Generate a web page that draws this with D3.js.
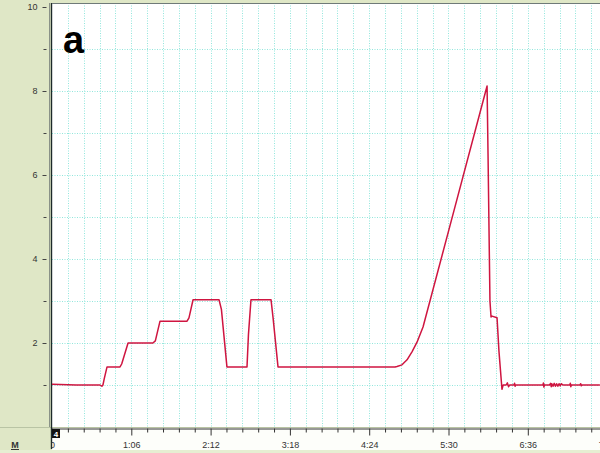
<!DOCTYPE html>
<html>
<head>
<meta charset="utf-8">
<script src="https://cdn.jsdelivr.net/npm/d3@7"></script>
<style>
html,body{margin:0;padding:0;overflow:hidden;background:#dfe7c6;}
svg{display:block;font-family:"Liberation Sans",Arial,sans-serif;}
</style>
</head>
<body>
<svg id="chart" width="600" height="453"></svg>
<script>
// Time in seconds
const timeSec = [0,20,40,41.5,42.4,43.5,45.8,56.6,58,63.3,84,86,89.9,112.4,114,117.4,139,141,145.6,162.3,163.5,165.6,182.3,184,188.1,285.5,287.1,291.3,295.5,299.6,303.8,308.8,331.3,362.1,362.9,364.5,365.4,366.2,370.4,372,374.5,375.5,378,379,380,381,384.5,385,385.5,386,408.6,409,409.4,409.8,414,415,415.5,416,417,418,419,420,421,422,423,424,425.3,431,431.4,431.8,432.2,439.4,440,440.5,441,456];
// Voltage values
const voltage = [1.02,1.0,1.0,0.97,1.0,1.15,1.43,1.43,1.5,2.0,2.0,2.05,2.52,2.52,2.6,3.03,3.03,2.8,1.43,1.43,2.2,3.03,3.03,2.6,1.43,1.43,1.44,1.48,1.6,1.79,2.02,2.38,4.8,8.12,6.5,3.0,2.62,2.64,2.6,1.8,0.9,1.0,1.0,1.05,0.96,1.0,1.0,1.04,0.97,1.0,1.0,1.05,0.95,1.0,1.0,1.04,0.96,1.03,0.97,1.04,0.97,1.03,0.97,1.03,0.98,1.03,1.0,1.0,1.04,0.96,1.0,1.0,1.03,0.98,1.0,1.0];
const xTickValues = [0,66,132,198,264,330,396,462];
const yTickLabels = [2,4,6,8,10];

(function(){
const svg = d3.select("#chart");
const W = 600, H = 453;
const pLeft = 52, pTop = 3, pBottom = 427;
const pxPerSec = 79.3/66;
const tMax = 470;

const x = d3.scaleLinear().domain([0, tMax]).range([pLeft, pLeft + tMax*pxPerSec]);
const y = d3.scaleLinear().domain([0, 10]).range([pBottom, pBottom - 420]);

// backgrounds
svg.append("rect").attr("x",0).attr("y",0).attr("width",W).attr("height",H).attr("fill","#dfe7c6");
svg.append("rect").attr("x",pLeft).attr("y",pTop).attr("width",W-pLeft).attr("height",pBottom-pTop).attr("fill","#ffffff");
svg.append("rect").attr("x",pLeft).attr("y",pBottom+1).attr("width",W-pLeft).attr("height",22).attr("fill","#fdfefa");
svg.append("rect").attr("x",0).attr("y",450).attr("width",W).attr("height",3).attr("fill","#e6eed2");

// grid
const gridColor = "#93e6dc";
const vGrid = d3.range(0, tMax, 13.2);
svg.append("g").selectAll("line").data(vGrid.slice(1)).join("line")
  .attr("x1",d=>Math.round(x(d))+0.5).attr("x2",d=>Math.round(x(d))+0.5)
  .attr("y1",pTop).attr("y2",pBottom)
  .attr("stroke",gridColor).attr("stroke-width",1).attr("stroke-dasharray","1,1.5");
svg.append("g").selectAll("line").data(d3.range(1,10)).join("line")
  .attr("x1",pLeft).attr("x2",W)
  .attr("y1",d=>Math.round(y(d))+0.5).attr("y2",d=>Math.round(y(d))+0.5)
  .attr("stroke",gridColor).attr("stroke-width",1).attr("stroke-dasharray","1,1.5");

// separator line under plot
svg.append("line").attr("x1",0).attr("x2",W).attr("y1",pBottom+0.5).attr("y2",pBottom+0.5)
  .attr("stroke","#b9c4a4").attr("stroke-width",1);

// frame
svg.append("line").attr("x1",49.5).attr("x2",49.5).attr("y1",pTop).attr("y2",pBottom)
  .attr("stroke","#8a9288").attr("stroke-width",1);
svg.append("line").attr("x1",51.5).attr("x2",51.5).attr("y1",pTop).attr("y2",449)
  .attr("stroke","#1d2a2a").attr("stroke-width",1.4);
svg.append("line").attr("x1",pLeft).attr("x2",W).attr("y1",pTop+0.5).attr("y2",pTop+0.5)
  .attr("stroke","#6f7a78").attr("stroke-width",1);

// data line
const pts = timeSec.map((t,i)=>[t, voltage[i]]);
const line = d3.line().x(d=>x(d[0])).y(d=>y(d[1]));
svg.append("path").datum(pts).attr("d",line)
  .attr("fill","none").attr("stroke","#cf1540").attr("stroke-width",1.5)
  .attr("stroke-linejoin","round");

// x axis
const clip = svg.append("clipPath").attr("id","xclip");
clip.append("rect").attr("x",51).attr("y",-2).attr("width",W).attr("height",30);
const fmt = s => Math.floor(s/60) + ":" + String(Math.round(s%60)).padStart(2,"0");
const xAxis = d3.axisBottom(x).tickValues(xTickValues).tickSize(7).tickPadding(6)
  .tickFormat(d => d===0 ? "0" : fmt(d));
const gx = svg.append("g").attr("transform",`translate(0,${pBottom+1.5})`).attr("clip-path","url(#xclip)").call(xAxis);
gx.select(".domain").attr("stroke","#333");
gx.selectAll(".tick line").attr("stroke","#333");
gx.selectAll("text").attr("font-size",9).attr("fill","#333");
const minorX = d3.range(0, tMax, 13.2).filter((d,i)=>i%5!==0);
const xMinor = d3.axisBottom(x).tickValues(minorX).tickSize(4).tickFormat("");
const gxm = svg.append("g").attr("transform",`translate(0,${pBottom+1.5})`).call(xMinor);
gxm.select(".domain").remove();
gxm.selectAll(".tick line").attr("stroke","#333");

// y axis
const yAxis = d3.axisLeft(y).tickValues(yTickLabels).tickSize(4).tickPadding(5);
const gy = svg.append("g").attr("transform","translate(46.5,0)").call(yAxis);
gy.select(".domain").remove();
gy.selectAll(".tick line").attr("stroke","#444");
gy.selectAll("text").attr("font-size",9).attr("fill","#333");
const yMinor = d3.axisLeft(y).tickValues([1,3,5,7,9]).tickSize(3).tickFormat("");
const gym = svg.append("g").attr("transform","translate(46.5,0)").call(yMinor);
gym.select(".domain").remove();
gym.selectAll(".tick line").attr("stroke","#444");

// channel box
svg.append("rect").attr("x",52).attr("y",429).attr("width",8).attr("height",9).attr("fill","#111");
svg.append("text").attr("x",56).attr("y",437).attr("text-anchor","middle")
  .attr("font-size",8).attr("font-weight","bold").attr("fill","#fff").text("4");

// M marker
svg.append("text").attr("x",15).attr("y",448).attr("text-anchor","middle")
  .attr("font-size",9).attr("font-weight","bold").attr("fill","#333").text("M");
svg.append("line").attr("x1",11).attr("x2",19).attr("y1",449.5).attr("y2",449.5).attr("stroke","#333");

// panel label
svg.append("text").attr("x",63).attr("y",53).attr("font-size",38).attr("font-weight","bold")
  .attr("fill","#000").text("a");
})();
</script>
</body>
</html>
